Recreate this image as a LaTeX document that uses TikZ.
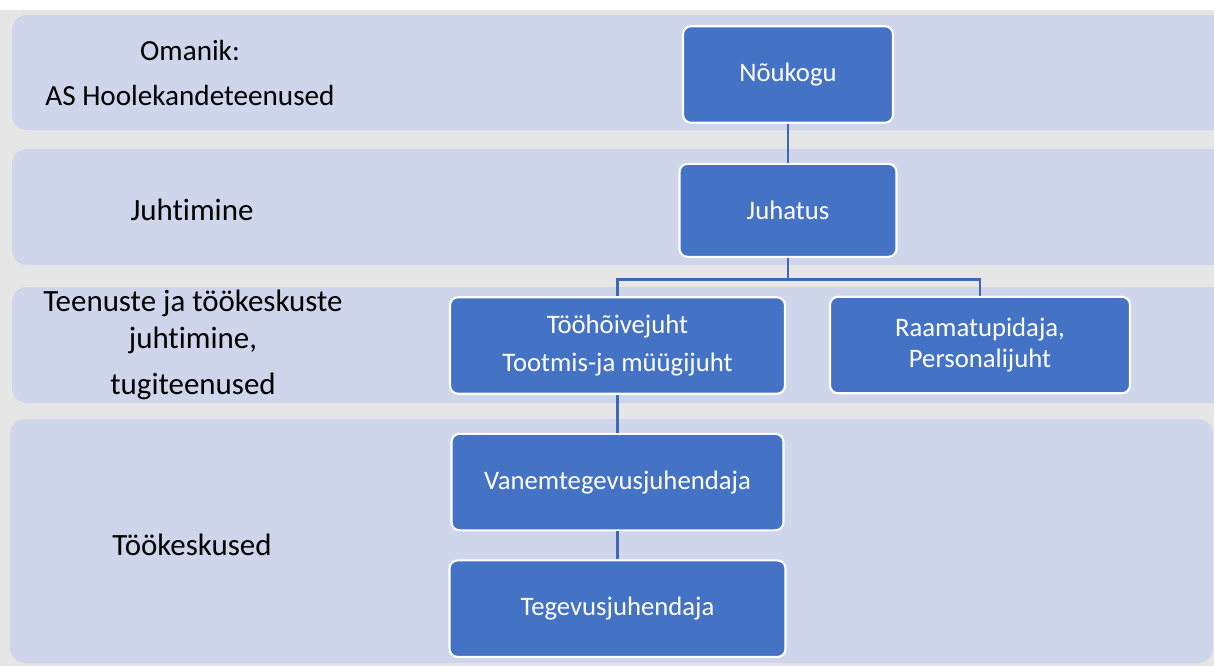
\documentclass[tikz,border=0pt]{standalone}
\usepackage{fontspec}
\setmainfont[RawFeature=-liga]{Carlito}
\usepackage{tikz}
\usetikzlibrary{positioning}
\definecolor{bandblue}{HTML}{CFD5EA}
\definecolor{pagegray}{HTML}{E6E6E6}
\definecolor{boxblue}{HTML}{4472C4}
\definecolor{linkblue}{HTML}{3F68B5}

\begin{document}
\begin{tikzpicture}[
    x=0.02cm,
    y=-0.02cm,
    node distance=0.8cm,
    thick
]


\tikzstyle{band}=[
    fill=bandblue,
    rounded corners=0.3cm
]
\tikzstyle{unit}=[
    rectangle,
    rounded corners=0.16cm,
    draw=white,
    line width=1.2pt,
    fill=boxblue,
    text=white,
    font=\fontsize{15.2}{18}\selectfont,
    align=center,
    inner sep=0pt,
    minimum height=1.93cm
]
\tikzstyle{level}=[
    font=\fontsize{17.6}{21}\selectfont,
    align=center
]
\tikzstyle{link}=[
    draw=linkblue,
    line width=1.6pt
]


\useasboundingbox (0,0) rectangle (1214,666);
\fill[white] (0,0) rectangle (1214,666);
\fill[pagegray] (0,10) rectangle (1214,666);

% bands
\fill[band] (12,15) rectangle (1240,130);
\fill[band] (12,149) rectangle (1240,265);
\fill[band] (12,287) rectangle (1240,403);
\fill[band] (10,419) rectangle (1213,663);


\node[level, font=\fontsize{16.6}{20}\selectfont] (owner) at (190,73) {Omanik:\\[6pt]AS Hoolekandeteenused};
\node[level] (mgmt) at (192,210) {Juhtimine};
\node[level] (services) at (193,345) {Teenuste ja töökeskuste\\juhtimine,\\[5.6pt]tugiteenused};
\node[level] (centres) at (192,545) {Töökeskused};


\node[unit, minimum width=4.2cm] (noukogu) at (788,74.5) {Nõukogu};
\node[unit, minimum width=4.34cm, minimum height=1.86cm, below=0.78cm of noukogu] (juhatus) {Juhatus};
\node[unit, minimum width=6.7cm] (toohoive) at (617.5,345.5) {Tööhõivejuht\\[0.13cm]Tootmis-ja müügijuht};
\node[unit, minimum width=6cm] (raamat) at (980,345) {Raamatupidaja,\\Personalijuht};
\node[unit, minimum width=6.64cm, below=0.76cm of toohoive] (vanem) {Vanemtegevusjuhendaja};
\node[unit, minimum width=6.72cm, below=0.56cm of vanem] (tegevus) {Tegevusjuhendaja};


\path (juhatus.south) ++(0,22) coordinate (split);

\draw[link] (noukogu) -- (juhatus);
\draw[link] (juhatus.south) -- (split) -| (toohoive.north);
\draw[link] (split) -| (raamat.north);
\draw[link] (toohoive) -- (vanem);
\draw[link] (vanem) -- (tegevus);

\end{tikzpicture}
\end{document}
